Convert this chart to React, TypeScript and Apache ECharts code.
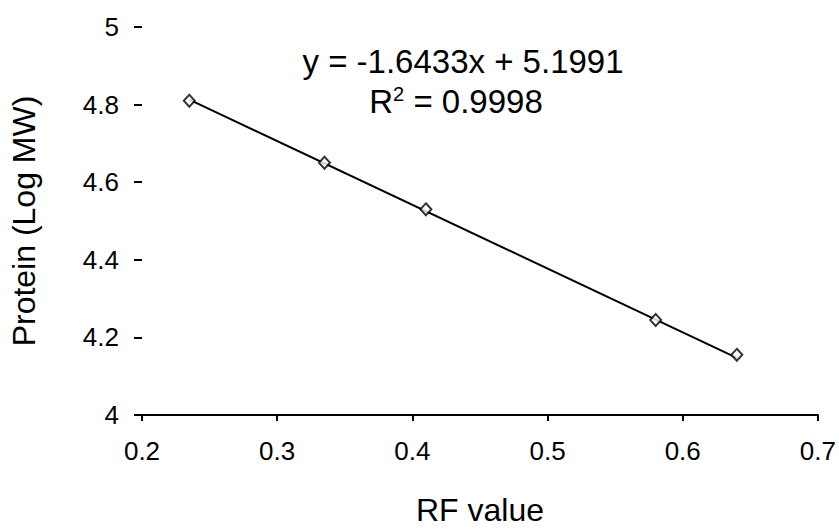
import React, { useEffect, useRef } from "react";
import * as echarts from "echarts";

const rfValues = [0.235, 0.335, 0.41, 0.58, 0.64];
const logMW = [4.81, 4.65, 4.53, 4.245, 4.155];
const slope = -1.6433;
const intercept = 5.1991;
const rSquared = "0.9998";
const FONT = "'Liberation Sans', Arial, sans-serif";

export default function App() {
  const ref = useRef<HTMLDivElement>(null);
  useEffect(() => {
    if (!ref.current) return;
    const chart = echarts.init(ref.current, null, { renderer: "svg" });
    const xStart = rfValues[0];
    const xEnd = rfValues[rfValues.length - 1];
    const trend = [
      [xStart, slope * xStart + intercept],
      [xEnd, slope * xEnd + intercept],
    ];
    chart.setOption({
      animation: false,
      backgroundColor: "#ffffff",
      textStyle: { fontFamily: FONT, color: "#000" },
      grid: { left: 141, right: 21, top: 27, bottom: 114, containLabel: false },
      xAxis: {
        type: "value",
        min: 0.2,
        max: 0.7,
        interval: 0.1,
        name: "RF value",
        nameLocation: "middle",
        nameGap: 79,
        nameTextStyle: { fontSize: 32, color: "#000", fontFamily: FONT },
        axisLine: { show: true, lineStyle: { color: "#000", width: 2 } },
        axisTick: { show: true, length: 6, lineStyle: { color: "#000", width: 2 } },
        axisLabel: { fontSize: 26, color: "#000", margin: 23, fontFamily: FONT },
        splitLine: { show: false },
      },
      yAxis: {
        type: "value",
        min: 4,
        max: 5,
        interval: 0.2,
        name: "Protein (Log MW)",
        nameLocation: "middle",
        nameGap: 102,
        nameTextStyle: { fontSize: 32, color: "#000", fontFamily: FONT },
        axisLine: { show: false },
        axisTick: { show: true, length: 8, lineStyle: { color: "#000", width: 2 } },
        axisLabel: { fontSize: 26, color: "#000", margin: 23, fontFamily: FONT },
        splitLine: { show: false },
      },
      series: [
        {
          type: "line",
          data: trend,
          symbol: "none",
          lineStyle: { color: "#000", width: 2 },
          z: 2,
        },
        {
          type: "scatter",
          data: rfValues.map((x, i) => [x, logMW[i]]),
          symbol: "diamond",
          symbolSize: [11, 12],
          itemStyle: { color: "#fff", borderColor: "#000", borderWidth: 2 },
          z: 3,
        },
      ],
      graphic: [
        {
          type: "text",
          x: 463,
          y: 61,
          style: {
            text: `y = ${slope}x + ${intercept}`,
            font: `33px ${FONT}`,
            fill: "#000",
            align: "center",
            verticalAlign: "middle",
          },
        },
        {
          type: "text",
          x: 456,
          y: 101,
          style: {
            text: `R{sup|2} = ${rSquared}`,
            font: `33px ${FONT}`,
            fill: "#000",
            align: "center",
            verticalAlign: "middle",
            rich: {
              sup: { fontSize: 20, fontFamily: FONT, verticalAlign: "top", padding: [0, 0, 14, 0] },
            },
          },
        },
      ],
    });
    return () => chart.dispose();
  }, []);
  return <div ref={ref} style={{ width: 839, height: 531, position: "absolute", left: 0, top: 0 }} />;
}
